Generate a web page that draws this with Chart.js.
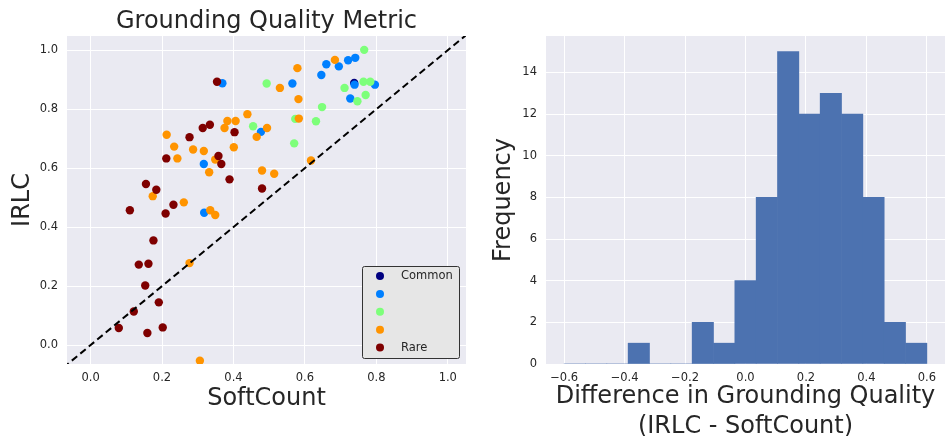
<!DOCTYPE html>
<html>
<head>
<meta charset="utf-8">
<script src="https://cdn.jsdelivr.net/npm/chart.js@4"></script>
<style>
  html, body { margin: 0; padding: 0; background: #fff; overflow: hidden; }
  #wrap { position: relative; width: 945px; height: 436px; }
  canvas { position: absolute; top: 0; }
  #scatter { left: 0; }
  #hist { left: 480px; }
</style>
</head>
<body>
<div id="wrap">
  <canvas id="scatter" width="480" height="436"></canvas>
  <canvas id="hist" width="465" height="436"></canvas>
</div>
<script>
// scatter groups, [SoftCount, IRLC]
const commonPts = [[0.738, 0.889]];
const freq2Pts = [
  [0.369, 0.888], [0.565, 0.887], [0.660, 0.952], [0.695, 0.945], [0.721, 0.966],
  [0.741, 0.974], [0.646, 0.916], [0.739, 0.883], [0.796, 0.883], [0.727, 0.836],
  [0.477, 0.723], [0.317, 0.614], [0.318, 0.449]
];
const freq3Pts = [
  [0.766, 1.001], [0.493, 0.887], [0.764, 0.893], [0.783, 0.893], [0.711, 0.872],
  [0.770, 0.848], [0.747, 0.827], [0.648, 0.807], [0.573, 0.767], [0.631, 0.759],
  [0.455, 0.742], [0.570, 0.684]
];
const freq4Pts = [
  [0.684, 0.967], [0.579, 0.939], [0.530, 0.872], [0.582, 0.834], [0.583, 0.768],
  [0.439, 0.783], [0.383, 0.760], [0.406, 0.760], [0.375, 0.736], [0.494, 0.736],
  [0.465, 0.706], [0.213, 0.713], [0.234, 0.673], [0.243, 0.633], [0.287, 0.663],
  [0.317, 0.658], [0.401, 0.671], [0.349, 0.629], [0.332, 0.586], [0.480, 0.592],
  [0.514, 0.581], [0.617, 0.626], [0.174, 0.505], [0.261, 0.484], [0.335, 0.457],
  [0.349, 0.441], [0.277, 0.278], [0.306, -0.053]
];
const rarePts = [
  [0.354, 0.893], [0.314, 0.736], [0.334, 0.747], [0.277, 0.705], [0.403, 0.722],
  [0.212, 0.633], [0.358, 0.641], [0.366, 0.614], [0.389, 0.562], [0.480, 0.531],
  [0.155, 0.546], [0.184, 0.527], [0.110, 0.457], [0.232, 0.476], [0.210, 0.446],
  [0.176, 0.355], [0.135, 0.273], [0.162, 0.276], [0.153, 0.202], [0.191, 0.145],
  [0.121, 0.114], [0.079, 0.058], [0.159, 0.041], [0.202, 0.060]
];
const groupLabels = ['Common', '', '', '', 'Rare'];
const groupColors = ['#00007f', '#0080ff', '#7dff7a', '#ff9400', '#7f0000'];
const identityLine = [-0.1, 1.1];

// histogram of IRLC - SoftCount
const diffCounts = [0, 0, 0, 1, 0, 0, 2, 1, 4, 8, 15, 12, 13, 12, 8, 2, 1];
const diffMin = -0.6;
const diffMax = 0.6;

const TEXT = '#262626';
const BG = '#eaeaf2';
Chart.defaults.font.family = "'DejaVu Sans', sans-serif";
Chart.defaults.color = TEXT;

const plotBg = {
  id: 'plotBg',
  beforeDraw(chart) {
    const { ctx, chartArea: a } = chart;
    ctx.save();
    ctx.fillStyle = BG;
    ctx.fillRect(a.left, a.top, a.right - a.left, a.bottom - a.top);
    ctx.restore();
  }
};

const fmtTick = (v) => {
  if (Math.abs(v) < 1e-9) v = 0;
  return v.toFixed(1).replace('-', '\u2212');
};

const axisBase = (min, max, step, size, pad, fmt) => ({
  type: 'linear',
  min: min,
  max: max,
  offset: false,
  border: { display: false },
  grid: { color: '#ffffff', lineWidth: 1, drawTicks: false, offset: false },
  ticks: { stepSize: step, includeBounds: false, padding: pad, font: { size: 11.5 }, callback: fmt },
  afterFit: (s) => { if (s.isHorizontal()) s.height = size; else s.width = size; }
});

// ---------- left: scatter ----------
const pts = [commonPts, freq2Pts, freq3Pts, freq4Pts, rarePts];

const scatterTitle = {
  id: 'scatterTitle',
  afterDraw(chart) {
    const { ctx, chartArea: a } = chart;
    ctx.save();
    ctx.fillStyle = TEXT;
    ctx.font = "24px 'DejaVu Sans'";
    ctx.textAlign = 'center';
    ctx.textBaseline = 'middle';
    ctx.fillText('Grounding Quality Metric', (a.left + a.right) / 2, 21.5);
    ctx.restore();
  }
};

const boxLegend = {
  id: 'boxLegend',
  afterDraw(chart) {
    const { ctx, chartArea: a } = chart;
    const x0 = a.right - 104, y0 = a.bottom - 98, w = 97, h = 92;
    ctx.save();
    ctx.fillStyle = '#e6e6e6';
    ctx.strokeStyle = '#333333';
    ctx.lineWidth = 1;
    ctx.beginPath();
    ctx.roundRect(x0 + 0.5, y0 + 0.5, w, h, 2);
    ctx.fill();
    ctx.stroke();
    ctx.font = "11.5px 'DejaVu Sans'";
    ctx.textBaseline = 'middle';
    chart.data.datasets.filter(d => d.inLegend).forEach((d, i) => {
      const cy = y0 + 10 + i * 17.9;
      ctx.fillStyle = d.backgroundColor;
      ctx.beginPath();
      ctx.arc(x0 + 18, cy, 4, 0, Math.PI * 2);
      ctx.fill();
      ctx.fillStyle = TEXT;
      ctx.fillText(d.label, x0 + 39, cy);
    });
    ctx.restore();
  }
};

const scatterSets = pts.map((p, i) => ({
  type: 'scatter',
  label: groupLabels[i],
  inLegend: true,
  data: p.map(([x, y]) => ({ x, y })),
  backgroundColor: groupColors[i],
  borderWidth: 0,
  pointRadius: 4.2,
  order: 5 - i
}));
scatterSets.push({
  type: 'line',
  label: 'y = x',
  data: identityLine.map(v => ({ x: v, y: v })),
  borderColor: '#000000',
  borderWidth: 2,
  borderDash: [7, 4],
  pointRadius: 0,
  order: 0
});

const sx = axisBase(-0.066, 1.051, 0.2, 72, 7, fmtTick);
sx.title = { display: true, text: 'SoftCount', font: { size: 24, lineHeight: 1.25 }, padding: { top: 0, bottom: 22 } };
const sy = axisBase(-0.064, 1.048, 0.2, 67, 9, fmtTick);
sy.title = { display: true, text: 'IRLC', font: { size: 24, lineHeight: 1.25 }, padding: { top: 8, bottom: 0 } };

new Chart(document.getElementById('scatter'), {
  type: 'scatter',
  data: { datasets: scatterSets },
  options: {
    responsive: false,
    animation: false,
    layout: { padding: { top: 36, right: 14, left: 0, bottom: 0 } },
    plugins: { legend: { display: false }, tooltip: { enabled: false } },
    scales: { x: sx, y: sy }
  },
  plugins: [plotBg, scatterTitle, boxLegend]
});

// ---------- right: histogram ----------
const binW = (diffMax - diffMin) / diffCounts.length;
const histData = diffCounts.map((c, i) => ({ x: diffMin + binW * (i + 0.5), y: c }));

const hx = axisBase(-0.66, 0.66, 0.2, 72, 7, fmtTick);
hx.title = {
  display: true,
  text: ['Difference in Grounding Quality', '(IRLC - SoftCount)'],
  font: { size: 24, lineHeight: 1.25 },
  padding: { top: 0, bottom: -6 }
};
const hy = axisBase(0, 15.75, 2, 66, 9, (v) => String(Math.round(v)));
hy.title = { display: true, text: 'Frequency', font: { size: 24, lineHeight: 1.25 }, padding: { top: 9, bottom: 0 } };

new Chart(document.getElementById('hist'), {
  type: 'bar',
  data: {
    datasets: [{
      data: histData,
      backgroundColor: '#4c72b0',
      borderWidth: 0,
      barPercentage: 1,
      categoryPercentage: 1
    }]
  },
  options: {
    responsive: false,
    animation: false,
    layout: { padding: { top: 36, right: 0, left: 0, bottom: 0 } },
    plugins: { legend: { display: false }, tooltip: { enabled: false } },
    scales: { x: hx, y: hy }
  },
  plugins: [plotBg]
});
</script>
</body>
</html>
